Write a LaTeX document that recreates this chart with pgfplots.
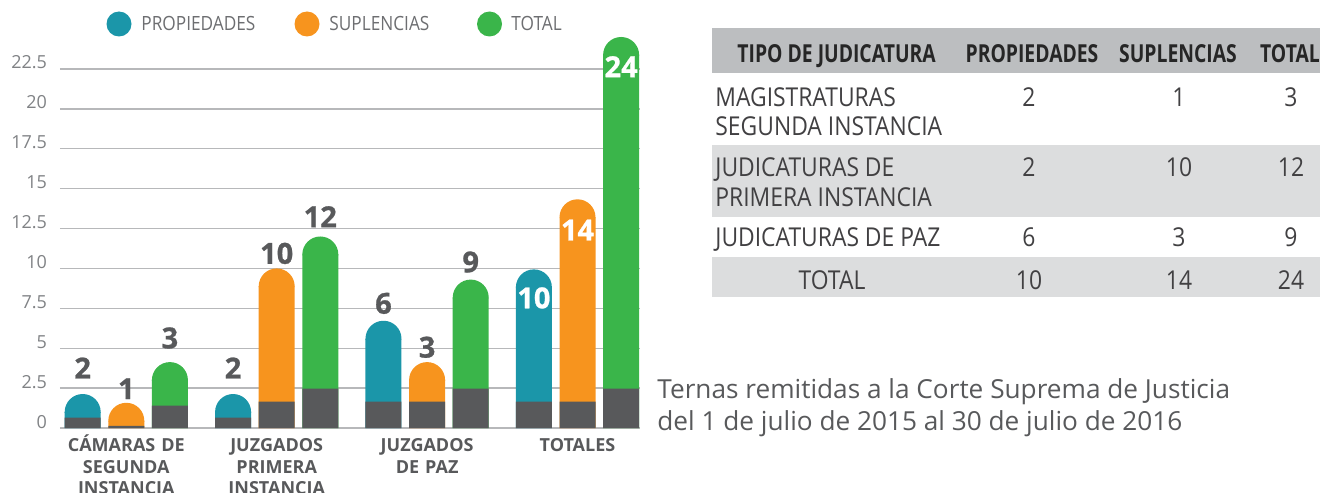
\documentclass[border=0pt]{standalone}
\usepackage{pgfplots}
\pgfplotsset{compat=1.18}
\usepackage{pgfplotstable}
\usepackage{fontspec}
\setmainfont{Open Sans}
\newfontfamily\condfont[FakeStretch=0.78]{Open Sans}
\newfontfamily\rowfont[FakeStretch=0.88]{Open Sans}
\newfontfamily\legfont[FakeStretch=0.88]{Open Sans}
\newfontfamily\heavyfont[BoldFeatures={FakeBold=0.8}]{Open Sans}
\definecolor{cblue}{HTML}{1B96A9}
\definecolor{corange}{HTML}{F7941E}
\definecolor{cgreen}{HTML}{3AB54A}
\definecolor{cgray}{HTML}{58595B}
\definecolor{hdr}{HTML}{BCBEC0}
\definecolor{altrow}{HTML}{DCDDDE}
\definecolor{gridc}{HTML}{B7B8BA}
\definecolor{tickc}{HTML}{808285}
\definecolor{legc}{HTML}{6D6E71}
\definecolor{tabc}{HTML}{414042}
\pgfdeclareplotmark{cap}{%
  \pgfpathmoveto{\pgfqpoint{-9pt}{0pt}}%
  \pgfpatharc{180}{0}{9pt}%
  \pgfpathlineto{\pgfqpoint{9pt}{-0.4pt}}%
  \pgfpathlineto{\pgfqpoint{-9pt}{-0.4pt}}%
  \pgfpathclose\pgfusepathqfill}
\pgfplotstableread{
g prop propbase sup supbase tot totbase
0 2.13 0.65 1.58 0.13 4.13 1.40
1 2.13 0.65 10.00 1.65 12.00 2.46
2 6.72 1.65 4.13 1.65 9.30 2.46
3 9.94 1.65 14.33 1.65 24.50 2.46
}\bars
\pgfplotstableread{
x y lab
-0.29 3.76 2
0 2.46 1
0.29 5.64 3
0.71 3.76 2
1 10.94 10
1.29 13.24 12
1.71 7.81 6
2 5.06 3
2.29 10.40 9
}\outlabels
\pgfplotstableread{
x y lab
2.71 8.15 10
3 12.40 14
3.29 22.64 24
}\inlabels
\begin{document}
\begin{tikzpicture}
\path[use as bounding box] (0,0) rectangle (660pt,-246pt);
\begin{axis}[
  at={(30pt,-214pt)}, anchor=south west,
  scale only axis, width=290pt, height=199.5pt,
  xmin=-0.4408, xmax=3.4156, ymin=0, ymax=25,
  clip=false,
  axis line style={draw=none},
  major tick length=0pt,
  ymajorgrids, grid style={gridc, line width=0.7pt},
  ytick={0,2.5,5,7.5,10,12.5,15,17.5,20,22.5},
  /pgf/number format/assume math mode=true,
  yticklabel style={font=\fontsize{9}{9}\selectfont, text=tickc, anchor=base east, xshift=-3pt},
  xtick={0,1,2,3},
  xticklabels={{CÁMARAS DE\\SEGUNDA\\INSTANCIA},{JUZGADOS\\PRIMERA\\INSTANCIA},{JUZGADOS\\DE PAZ},{TOTALES}},
  xticklabel style={text width=90pt, align=center, font=\bfseries\fontsize{9}{10.75}\selectfont, text=cgray, anchor=base, yshift=-11.8pt},
]
% propiedades
\addplot[ybar, bar width=18pt, bar shift=0pt, fill=cblue, draw=none] table[x expr=\thisrow{g}-0.29, y expr=\thisrow{prop}-1.128]{\bars};
\addplot[only marks, mark=cap, color=cblue, mark options={fill=cblue}] table[x expr=\thisrow{g}-0.29, y expr=\thisrow{prop}-1.128]{\bars};
\addplot[ybar, bar width=18pt, bar shift=0pt, fill=cgray, draw=none] table[x expr=\thisrow{g}-0.29, y=propbase]{\bars};
% suplencias
\addplot[ybar, bar width=18pt, bar shift=0pt, fill=corange, draw=none] table[x expr=\thisrow{g}, y expr=\thisrow{sup}-1.128]{\bars};
\addplot[only marks, mark=cap, color=corange, mark options={fill=corange}] table[x expr=\thisrow{g}, y expr=\thisrow{sup}-1.128]{\bars};
\addplot[ybar, bar width=18pt, bar shift=0pt, fill=cgray, draw=none] table[x expr=\thisrow{g}, y=supbase]{\bars};
% total
\addplot[ybar, bar width=18pt, bar shift=0pt, fill=cgreen, draw=none] table[x expr=\thisrow{g}+0.29, y expr=\thisrow{tot}-1.128]{\bars};
\addplot[only marks, mark=cap, color=cgreen, mark options={fill=cgreen}] table[x expr=\thisrow{g}+0.29, y expr=\thisrow{tot}-1.128]{\bars};
\addplot[ybar, bar width=18pt, bar shift=0pt, fill=cgray, draw=none] table[x expr=\thisrow{g}+0.29, y=totbase]{\bars};
% labels
\addplot[draw=none, mark=none, nodes near coords, point meta=explicit symbolic,
  every node near coord/.append style={anchor=center, font=\heavyfont\bfseries\fontsize{14.5}{15}\selectfont, text=cgray}]
  table[x=x, y=y, meta=lab]{\outlabels};
\addplot[draw=none, mark=none, nodes near coords, point meta=explicit symbolic,
  every node near coord/.append style={anchor=center, font=\heavyfont\bfseries\fontsize{14.5}{15}\selectfont, text=white}]
  table[x=x, y=y, meta=lab]{\inlabels};
\end{axis}
\begin{scope}[x=0.5pt, y=-0.5pt]
% legend
\fill[cblue] (119,24) circle (6.25pt);
\fill[corange] (307,24) circle (6.25pt);
\fill[cgreen] (489.5,24) circle (6.25pt);
\begin{scope}[every node/.style={anchor=west, inner sep=0pt, font=\legfont\fontsize{9.8}{10}\selectfont, text=legc}]
\node at (141,23.7) {PROPIEDADES};
\node at (329,23.7) {SUPLENCIAS};
\node at (511,23.7) {TOTAL};
\end{scope}
% table
\fill[hdr] (712,28) rectangle (1320,73);
\fill[altrow] (712,145) rectangle (1320,217);
\fill[altrow] (712,257) rectangle (1320,297);
\begin{scope}[every node/.style={inner sep=0pt, font=\condfont\bfseries\fontsize{12.4}{13}\selectfont, text=black!85}]
\node[anchor=base west] at (737,63) {TIPO DE JUDICATURA};
\node[anchor=base] at (1032,63) {PROPIEDADES};
\node[anchor=base] at (1178,63) {SUPLENCIAS};
\node[anchor=base] at (1290,63) {TOTAL};
\end{scope}
\begin{scope}[every node/.style={inner sep=0pt, font=\rowfont\fontsize{13}{14}\selectfont, text=tabc}]
\node[anchor=base west] at (715,106) {MAGISTRATURAS};
\node[anchor=base west] at (715,135) {SEGUNDA INSTANCIA};
\node[anchor=base west] at (715,176.7) {JUDICATURAS DE};
\node[anchor=base west] at (715,206.7) {PRIMERA INSTANCIA};
\node[anchor=base west] at (715,246) {JUDICATURAS DE PAZ};
\node[anchor=base] at (832,289) {TOTAL};
\node[anchor=base] at (1029,106) {2};
\node[anchor=base] at (1179,106) {1};
\node[anchor=base] at (1291,106) {3};
\node[anchor=base] at (1029,176.7) {2};
\node[anchor=base] at (1179,176.7) {10};
\node[anchor=base] at (1291,176.7) {12};
\node[anchor=base] at (1029,246) {6};
\node[anchor=base] at (1179,246) {3};
\node[anchor=base] at (1291,246) {9};
\node[anchor=base] at (1029,289) {10};
\node[anchor=base] at (1179,289) {14};
\node[anchor=base] at (1291,289) {24};
\end{scope}
% caption
\begin{scope}[every node/.style={anchor=base west, inner sep=0pt, font=\fontsize{13.1}{16}\selectfont, text=cgray}]
\node at (657,398) {Ternas remitidas a la Corte Suprema de Justicia};
\node at (657,430) {del 1 de julio de 2015 al 30 de julio de 2016};
\end{scope}
\end{scope}
\end{tikzpicture}
\end{document}
